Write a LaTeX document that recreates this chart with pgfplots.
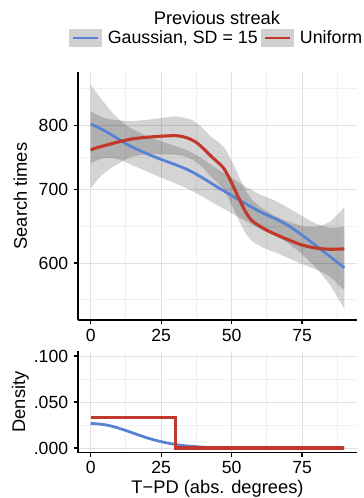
\documentclass[border=0pt]{standalone}
\usepackage{pgfplots}
\pgfplotsset{compat=1.18}
\usepgfplotslibrary{fillbetween}
\usepackage{fontspec}
\setmainfont{Liberation Sans}
\definecolor{gblue}{RGB}{88,130,212}
\definecolor{ured}{RGB}{192,57,43}
\definecolor{keygray}{RGB}{208,208,208}
\definecolor{majgrid}{RGB}{224,224,224}
\definecolor{mingrid}{RGB}{240,240,240}
\begin{document}
\fontsize{18.3}{22}\selectfont
\begin{tikzpicture}
\pgfplotsset{
  panel/.style={
    scale only axis, width=279pt,
    xmin=-4.5, xmax=94.5,
    axis x line*=bottom, axis y line*=left,
    axis line style={line width=1.1pt, black, -},
    tick align=outside, major tick length=4.5pt, minor tick length=0pt,
    tick style={black, line width=1.1pt},
    xtick={0,25,50,75}, xticklabels={0,25,50,75},
    minor xtick={12.5,37.5,62.5,87.5},
    grid=both,
    major grid style={majgrid, line width=0.9pt},
    minor grid style={mingrid, line width=0.9pt},
    tick label style={font=\fontsize{17.6}{20}\selectfont},
    label style={font=\fontsize{18.3}{22}\selectfont, inner sep=0pt},
    xticklabel style={anchor=base, inner sep=0pt, yshift=-16.8pt},
    yticklabel style={anchor=east, inner sep=0pt, xshift=-5.2pt},
    scaled y ticks=false,
    /pgf/number format/assume math mode=true,
  }
}
\node[anchor=base, inner sep=0pt] at (217pt,473pt) {Previous streak};
\begin{axis}[panel, at={(78pt,178pt)}, anchor=south west, height=247.7pt,
  ymode=log, ymin=532.6, ymax=893.7,
  ytick={600,700,800}, yticklabels={600,700,800},
  minor ytick={555.5,648.1,748.3,864.1},
  ylabel={Search times},
  ylabel style={at={(axis description cs:-0.2068,0.5)}, anchor=center},
  legend style={at={(axis description cs:-0.0323,1.1385)}, anchor=west,
    draw=none, fill=none, inner sep=0pt, outer sep=0pt, legend columns=2,
    font=\fontsize{17.8}{21}\selectfont,
    nodes={inner sep=0pt},
    /tikz/every odd column/.append style={column sep=6pt},
    /tikz/every even column/.append style={column sep=3.5pt}},
  legend image code/.code={\fill[keygray] (0pt,-8pt) rectangle (30pt,8pt);
    \draw[#1] (2.5pt,0pt) -- (27.5pt,0pt);}
]
\addlegendimage{gblue, line width=2.8pt}
\addlegendentry{Gaussian, SD = 15}
\addlegendimage{ured, line width=2.8pt}
\addlegendentry{Uniform}

\addplot[name path=bu, draw=none, smooth, forget plot] coordinates {(0,870.6)(2.5,853.9)(5,837.4)(7.5,822.6)(10,810.3)(12.5,800.6)(15,793.6)(20,782.4)(25,773.8)(30,766.3)(35,757.7)(40,744.5)(45,730.2)(50,717.1)(55,703.9)(60,692.5)(65,684.2)(70,673.4)(75,661.9)(80,651.3)(85,645.6)(90,647.3)};
\addplot[name path=bl, draw=none, smooth, forget plot] coordinates {(0,738.8)(2.5,743.9)(5,747.2)(7.5,747.3)(10,745.0)(12.5,740.5)(15,735.5)(20,726.6)(25,717.2)(30,708.8)(35,699.5)(40,688.6)(45,676.8)(50,665.9)(55,655.0)(60,644.3)(65,636.6)(70,625.4)(75,611.1)(80,594.0)(85,572.6)(90,545.1)};
\addplot[name path=ru, draw=none, smooth, forget plot] coordinates {(0,824.1)(2.5,817.0)(5,812.0)(7.5,809.5)(10,808.6)(12.5,807.2)(15,807.3)(20,809.1)(25,812.3)(30,814.9)(32.5,813.4)(35,810.6)(37.5,804.3)(40,793.9)(42.5,782.2)(45,773.5)(47.5,763.0)(50,742.9)(52.5,719.8)(55,698.2)(57.5,683.8)(60,675.2)(62.5,668.7)(65,662.7)(70,654.4)(75,648.4)(80,647.5)(85,654.4)(90,674.2)};
\addplot[name path=rl, draw=none, smooth, forget plot] coordinates {(0,700.8)(2.5,714.5)(5,724.5)(7.5,732.4)(10,739.0)(12.5,745.1)(15,749.7)(20,752.9)(25,752.8)(30,752.3)(32.5,750.9)(35,746.7)(37.5,740.9)(40,731.3)(42.5,719.2)(45,709.8)(47.5,697.4)(50,677.6)(52.5,656.5)(55,638.2)(57.5,627.4)(60,622.0)(62.5,617.3)(65,614.2)(70,606.5)(75,598.6)(80,591.8)(85,582.7)(90,566.5)};
\addplot[fill=black, fill opacity=0.17, draw=none, forget plot] fill between[of=bu and bl];
\addplot[fill=black, fill opacity=0.17, draw=none, forget plot] fill between[of=ru and rl];

\addplot[gblue, line width=2.8pt, smooth, forget plot] coordinates {(0,802)(2.5,797)(5,791)(7.5,784)(10,777)(12.5,770)(15,764)(20,754)(25,745)(30,737)(35,728)(40,716)(45,703)(50,691)(55,679)(60,668)(65,659)(70,649)(75,636)(80,622)(85,608)(90,594)};
\addplot[ured, line width=3.1pt, smooth, tension=0.5, forget plot] coordinates {(0,760)(2.5,764)(5,767)(7.5,770)(10,773)(12.5,775.5)(15,778)(20,780.5)(25,782)(30,783)(32.5,781.5)(35,778)(37.5,772)(40,762)(42.5,751)(45,741)(46.25,736)(47.5,729.5)(48.75,720)(50,709.5)(51.25,698.5)(52.5,687.5)(53.75,677)(55,667.5)(56.25,660)(57.5,654.5)(60,648)(62.5,642.5)(65,638)(70,630)(75,623)(80,619)(85,617.5)(90,618)};
\end{axis}

\begin{axis}[panel, at={(78pt,45.4pt)}, anchor=south west, height=101.2pt,
  ymin=-0.005, ymax=0.105,
  ytick={0,0.05,0.1}, yticklabels={.000,.050,.100},
  minor ytick={0.025,0.075},
  ylabel={Density},
  ylabel style={at={(axis description cs:-0.2068,0.5)}, anchor=center},
  xlabel={T−PD (abs. degrees)},
  xlabel style={at={(axis description cs:0.5,-0.400)}, anchor=base}
]
\addplot[gblue, line width=2.8pt, smooth] coordinates {(0,0.0266)(2.5,0.0262)(5,0.0253)(7.5,0.0237)(10,0.0215)(12.5,0.0190)(15,0.0163)(17.5,0.0136)(20,0.0110)(22.5,0.0088)(25,0.0069)(27.5,0.0053)(30,0.0039)(32.5,0.0028)(35,0.0020)(40,0.0009)(45,0.0004)(50,0.0001)(55,0)(90,0)};
\addplot[ured, line width=3.1pt] coordinates {(0,0.0333)(30,0.0333)(30,0)(90,0)};
\end{axis}
\pgfresetboundingbox
\useasboundingbox (0,0) rectangle (364pt,498pt);
\end{tikzpicture}
\end{document}
